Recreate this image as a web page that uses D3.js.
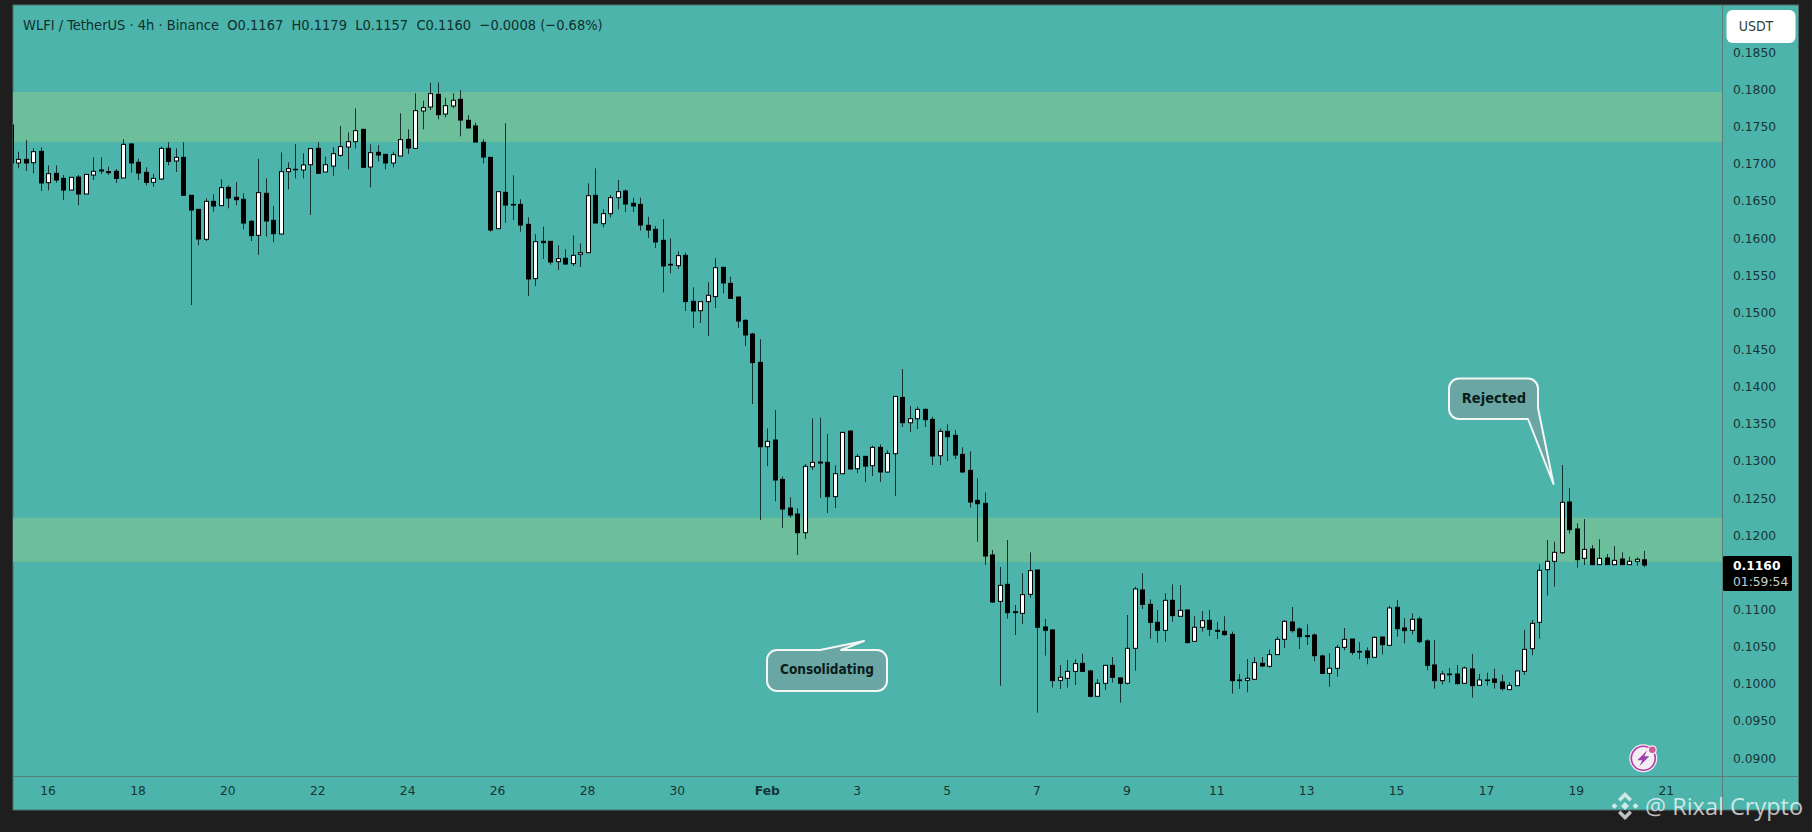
<!DOCTYPE html>
<html>
<head>
<meta charset="utf-8">
<title>WLFI / TetherUS</title>
<script src="https://cdnjs.cloudflare.com/ajax/libs/d3/7.8.5/d3.min.js"></script>
<style>
	html, body { margin: 0; padding: 0; background: #1e1e1e; overflow: hidden; }
	svg { display: block; }
	text { font-family: "DejaVu Sans", sans-serif; }
</style>
</head>
<body>
<svg id="chart" width="1812" height="832"></svg>
<script>
//DATA, one entry per 4h candle
var opens = [
	0.17522, 0.17011, 0.17060, 0.17015, 0.17168, 0.16746, 0.16872, 0.16804, 0.16647, 0.16822,
	0.16594, 0.16849, 0.16917, 0.16894, 0.16899, 0.16809, 0.17267, 0.17020, 0.16885, 0.16751,
	0.16795, 0.17208, 0.17038, 0.17087, 0.16576, 0.16387, 0.15984, 0.16495, 0.16437, 0.16683,
	0.16549, 0.16522, 0.16226, 0.16037, 0.16603, 0.16239, 0.16055, 0.16894, 0.16926, 0.16917,
	0.16988, 0.17208, 0.16890, 0.16970, 0.17114, 0.17226, 0.17298, 0.17464, 0.16957, 0.17154,
	0.17127, 0.17011, 0.17105, 0.17329, 0.17208, 0.17711, 0.17764, 0.17935, 0.17670, 0.17778,
	0.17868, 0.17585, 0.17509, 0.17289, 0.17087, 0.16127, 0.16616, 0.16454, 0.16454, 0.16185,
	0.15454, 0.15957, 0.15957, 0.15683, 0.15728, 0.15656, 0.15782, 0.15804, 0.16576, 0.16194,
	0.16329, 0.16544, 0.16634, 0.16468, 0.16454, 0.16172, 0.16118, 0.15970, 0.15647, 0.15629,
	0.15768, 0.15149, 0.15023, 0.15145, 0.15212, 0.15607, 0.15391, 0.15207, 0.14893, 0.14709,
	0.14328, 0.13192, 0.13282, 0.12753, 0.12367, 0.12286, 0.12035, 0.12923, 0.12986, 0.12982,
	0.12520, 0.12829, 0.13403, 0.12896, 0.13062, 0.12937, 0.13184, 0.12852, 0.13098, 0.13856,
	0.13515, 0.13569, 0.13695, 0.13560, 0.13071, 0.13399, 0.13345, 0.13089, 0.12874, 0.12470,
	0.12430, 0.11735, 0.11111, 0.11340, 0.10972, 0.10950, 0.11206, 0.11533, 0.10766, 0.10726,
	0.10048, 0.10075, 0.10169, 0.10277, 0.10174, 0.09833, 0.10008, 0.10250, 0.10080, 0.10008,
	0.10479, 0.11264, 0.11071, 0.10829, 0.10721, 0.11125, 0.10910, 0.10995, 0.10573, 0.10762,
	0.10856, 0.10721, 0.10708, 0.10667, 0.10053, 0.10048, 0.10062, 0.10277, 0.10237, 0.10394,
	0.10600, 0.10833, 0.10739, 0.10649, 0.10658, 0.10376, 0.10142, 0.10210, 0.10492, 0.10604,
	0.10438, 0.10443, 0.10358, 0.10631, 0.10519, 0.11031, 0.10752, 0.10721, 0.10874, 0.10578,
	0.10255, 0.10044, 0.10133, 0.10133, 0.10008, 0.10201, 0.09981, 0.10053, 0.10066, 0.10026,
	0.09923, 0.09976, 0.10169, 0.10474, 0.10829, 0.11538, 0.11650, 0.11766, 0.12448, 0.12085,
	0.11690, 0.11816, 0.11605, 0.11695, 0.11605, 0.11681, 0.11605, 0.11650, 0.11670
];
var highs = [
	0.17522,
	0.17163, 0.17320, 0.17208, 0.17222, 0.16979, 0.16979, 0.16849, 0.16818, 0.16849, 0.16858,
	0.17087, 0.17087, 0.16961, 0.16930, 0.17329, 0.17275, 0.17069, 0.16953, 0.16863, 0.17231,
	0.17289, 0.17208, 0.17289, 0.16576, 0.16387, 0.16535, 0.16589, 0.16791, 0.16706, 0.16755,
	0.16603, 0.16244, 0.17065, 0.16804, 0.16432, 0.17154, 0.17020, 0.17267, 0.17141, 0.17208,
	0.17289, 0.17096, 0.17222, 0.17509, 0.17424, 0.17747, 0.17464, 0.17262, 0.17253, 0.17127,
	0.17163, 0.17679, 0.17464, 0.17948, 0.17850, 0.18092, 0.18096, 0.17890, 0.17949, 0.17993,
	0.17652, 0.17554, 0.17329, 0.17087, 0.16625, 0.17545, 0.16845, 0.16522, 0.16280, 0.16051,
	0.16154, 0.15957, 0.15903, 0.15849, 0.16037, 0.15930, 0.16737, 0.16939, 0.16387, 0.16580,
	0.16782, 0.16656, 0.16544, 0.16544, 0.16288, 0.16163, 0.16253, 0.15997, 0.15822, 0.15804,
	0.15337, 0.15145, 0.15405, 0.15728, 0.15607, 0.15481, 0.15212, 0.14907, 0.14727, 0.14638,
	0.13439, 0.13686, 0.12789, 0.12511, 0.12363, 0.12959, 0.13574, 0.13583, 0.13363, 0.12941,
	0.13394, 0.13412, 0.13094, 0.13071, 0.13206, 0.13224, 0.13143, 0.13874, 0.14238, 0.13740,
	0.13731, 0.13708, 0.13596, 0.13439, 0.13493, 0.13417, 0.13184, 0.13130, 0.12766, 0.12578,
	0.11802, 0.11573, 0.11937, 0.11062, 0.11488, 0.11771, 0.11533, 0.10874, 0.10739, 0.10255,
	0.10322, 0.10331, 0.10407, 0.10187, 0.10066, 0.10255, 0.10362, 0.10089, 0.10927, 0.11309,
	0.11488, 0.11138, 0.10995, 0.11219, 0.11340, 0.11331, 0.10995, 0.10910, 0.10981, 0.10995,
	0.10833, 0.10910, 0.10703, 0.10133, 0.10335, 0.10362, 0.10362, 0.10465, 0.10636, 0.10860,
	0.11035, 0.10762, 0.10802, 0.10681, 0.10394, 0.10412, 0.10524, 0.10753, 0.10604, 0.10560,
	0.10492, 0.10636, 0.10636, 0.11049, 0.11129, 0.10883, 0.10950, 0.10905, 0.10600, 0.10591,
	0.10174, 0.10214, 0.10255, 0.10232, 0.10403, 0.10133, 0.10151, 0.10205, 0.10124, 0.10021,
	0.10174, 0.10726, 0.10860, 0.11609, 0.11937, 0.11914, 0.12946, 0.12637, 0.12161, 0.12219,
	0.11869, 0.11946, 0.11748, 0.11856, 0.11771, 0.11712, 0.11704, 0.11790
];
var lows = [
	0.16990,
	0.16939, 0.16903, 0.16872, 0.16634, 0.16643, 0.16746, 0.16513, 0.16647, 0.16441, 0.16594,
	0.16782, 0.16863, 0.16849, 0.16742, 0.16809, 0.16881, 0.16782, 0.16710, 0.16692, 0.16782,
	0.16979, 0.16890, 0.16567, 0.15100, 0.15903, 0.15961, 0.16356, 0.16437, 0.16401, 0.16441,
	0.16118, 0.15961, 0.15773, 0.16019, 0.15943, 0.16055, 0.16656, 0.16804, 0.16804, 0.16311,
	0.16863, 0.16890, 0.16836, 0.17096, 0.16926, 0.17208, 0.16948, 0.16683, 0.17033, 0.16926,
	0.16953, 0.17105, 0.17132, 0.17204, 0.17464, 0.17724, 0.17598, 0.17625, 0.17747, 0.17370,
	0.17482, 0.17293, 0.17006, 0.16087, 0.16127, 0.16208, 0.16244, 0.16087, 0.15221, 0.15355,
	0.15719, 0.15642, 0.15571, 0.15642, 0.15625, 0.15611, 0.15804, 0.16203, 0.16145, 0.16280,
	0.16387, 0.16351, 0.16351, 0.16100, 0.16001, 0.15867, 0.15270, 0.15526, 0.15584, 0.15019,
	0.14790, 0.14857, 0.14682, 0.15059, 0.15257, 0.15180, 0.14790, 0.14548, 0.13767, 0.12206,
	0.12932, 0.12457, 0.12098, 0.12237, 0.11735, 0.11950, 0.12878, 0.12502, 0.12300, 0.12367,
	0.12829, 0.12892, 0.12838, 0.12717, 0.12798, 0.12717, 0.12843, 0.12529, 0.13457, 0.13390,
	0.13430, 0.13457, 0.12946, 0.12946, 0.13000, 0.13026, 0.12843, 0.12372, 0.11914, 0.11600,
	0.11093, 0.09976, 0.10878, 0.10658, 0.10806, 0.11161, 0.09613, 0.10380, 0.09950, 0.09932,
	0.09950, 0.09986, 0.10160, 0.09819, 0.09833, 0.09918, 0.10017, 0.09748, 0.09994, 0.10178,
	0.11008, 0.10609, 0.10555, 0.10569, 0.10838, 0.10910, 0.10546, 0.10569, 0.10703, 0.10645,
	0.10604, 0.10649, 0.09869, 0.09932, 0.09887, 0.10062, 0.10228, 0.10219, 0.10389, 0.10483,
	0.10690, 0.10470, 0.10524, 0.10304, 0.10133, 0.09963, 0.10098, 0.10452, 0.10390, 0.10331,
	0.10264, 0.10358, 0.10398, 0.10519, 0.10636, 0.10546, 0.10667, 0.10546, 0.10183, 0.09936,
	0.09990, 0.10017, 0.09994, 0.10003, 0.09815, 0.09976, 0.09976, 0.09936, 0.09909, 0.09918,
	0.09972, 0.10120, 0.10385, 0.10609, 0.11188, 0.11309, 0.11748, 0.12022, 0.11564, 0.11600,
	0.11605, 0.11605, 0.11605, 0.11605, 0.11605, 0.11600, 0.11591, 0.11570
];
var closes = [
	0.17011,
	0.17060, 0.17011, 0.17163, 0.16742, 0.16867, 0.16782, 0.16647, 0.16818, 0.16594, 0.16858,
	0.16899, 0.16903, 0.16881, 0.16804, 0.17262, 0.17011, 0.16876, 0.16751, 0.16804, 0.17208,
	0.17033, 0.17087, 0.16576, 0.16378, 0.15988, 0.16495, 0.16432, 0.16679, 0.16540, 0.16517,
	0.16203, 0.16033, 0.16612, 0.16230, 0.16060, 0.16894, 0.16935, 0.16921, 0.16984, 0.17204,
	0.16872, 0.16988, 0.17136, 0.17231, 0.17298, 0.17446, 0.16953, 0.17150, 0.17118, 0.17011,
	0.17123, 0.17325, 0.17213, 0.17715, 0.17755, 0.17944, 0.17661, 0.17782, 0.17855, 0.17589,
	0.17482, 0.17293, 0.17091, 0.16109, 0.16625, 0.16445, 0.16445, 0.16176, 0.15450, 0.15952,
	0.15939, 0.15678, 0.15723, 0.15651, 0.15768, 0.15804, 0.16571, 0.16203, 0.16329, 0.16544,
	0.16625, 0.16459, 0.16432, 0.16176, 0.16109, 0.15948, 0.15625, 0.15638, 0.15764, 0.15145,
	0.15019, 0.15145, 0.15230, 0.15602, 0.15396, 0.15189, 0.14884, 0.14696, 0.14324, 0.13192,
	0.13264, 0.12744, 0.12354, 0.12273, 0.12035, 0.12928, 0.12982, 0.12973, 0.12520, 0.12829,
	0.13385, 0.12892, 0.13062, 0.12932, 0.13184, 0.12852, 0.13103, 0.13870, 0.13515, 0.13569,
	0.13695, 0.13556, 0.13067, 0.13399, 0.13327, 0.13080, 0.12852, 0.12448, 0.12425, 0.11721,
	0.11102, 0.11327, 0.10959, 0.10959, 0.11201, 0.11524, 0.10762, 0.10721, 0.10044, 0.10089,
	0.10169, 0.10273, 0.10169, 0.09833, 0.10008, 0.10250, 0.10089, 0.10008, 0.10479, 0.11277,
	0.11071, 0.10829, 0.10721, 0.11125, 0.10919, 0.10990, 0.10555, 0.10762, 0.10851, 0.10735,
	0.10708, 0.10663, 0.10044, 0.10044, 0.10075, 0.10286, 0.10241, 0.10394, 0.10600, 0.10842,
	0.10717, 0.10636, 0.10636, 0.10380, 0.10142, 0.10210, 0.10492, 0.10600, 0.10425, 0.10429,
	0.10353, 0.10627, 0.10528, 0.11022, 0.10743, 0.10717, 0.10869, 0.10569, 0.10250, 0.10044,
	0.10133, 0.10124, 0.10003, 0.10214, 0.09976, 0.10053, 0.10044, 0.10021, 0.09936, 0.09981,
	0.10174, 0.10465, 0.10815, 0.11529, 0.11650, 0.11771, 0.12444, 0.12076, 0.11672, 0.11811,
	0.11605, 0.11690, 0.11605, 0.11663, 0.11605, 0.11650, 0.11677, 0.11600
];
var zoneTops = [0.17966, 0.12237];
var zoneBottoms = [0.17293, 0.11641];
var priceTicks = [0.09, 0.095, 0.1, 0.105, 0.11, 0.12, 0.125, 0.13, 0.135, 0.14, 0.145, 0.15, 0.155, 0.16, 0.165, 0.17, 0.175, 0.18, 0.185];
var timeTickDates = [
	"2026-01-16", "2026-01-18", "2026-01-20", "2026-01-22", "2026-01-24", "2026-01-26", "2026-01-28", "2026-01-30",
	"2026-02-01", "2026-02-03", "2026-02-05", "2026-02-07", "2026-02-09", "2026-02-11", "2026-02-13", "2026-02-15",
	"2026-02-17", "2026-02-19", "2026-02-21"
];
var timeTickLabels = ["16", "18", "20", "22", "24", "26", "28", "30", "Feb", "3", "5", "7", "9", "11", "13", "15", "17", "19", "21"];
var headerText = "WLFI / TetherUS \u00b7 4h \u00b7 Binance  O0.1167  H0.1179  L0.1157  C0.1160  \u22120.0008 (\u22120.68%)";
var lastPrice = 0.1160;
var countdown = "01:59:54";

(function () {
	var svg, plot, x, y, firstCandle, candleMs;
	var left = 13, top = 5, axisX = 1722.5, axisY = 776, right = 1798.5, bottom = 810;
	var teal = "#4cb4ab", zone = "#6dbf9b", axisLine = "#5a7f7b", tickText = "#173534";

	svg = d3.select("#chart");
	firstCandle = Date.UTC(2026, 0, 15, 4);
	candleMs = 4 * 3600 * 1000;
	x = d3.scaleUtc()
		.domain([new Date(firstCandle), new Date(firstCandle + 218 * candleMs)])
		.range([10.81, 1644]);
	y = d3.scaleLinear().domain([0.09, 0.185]).range([758.2, 52.35]);

	drawFrame();
	drawZones();
	drawCandles();
	drawAxes();
	drawHeader();
	drawPriceLabel();
	drawCallouts();
	drawBadge();
	drawWatermark();

	function drawFrame() {
		svg.append("rect").attr("x", left).attr("y", top)
			.attr("width", right - left).attr("height", bottom - top)
			.style("fill", teal).style("stroke", "#4d6e6b");
		svg.append("defs").append("clipPath").attr("id", "plot-clip")
			.append("rect").attr("x", left).attr("y", top)
			.attr("width", axisX - left).attr("height", axisY - top);
		plot = svg.append("g").attr("clip-path", "url(#plot-clip)");
	}
	function drawZones() {
		plot.selectAll(".zone")
			.data(zoneTops).enter().append("rect")
			.attr("class", "zone")
			.attr("x", left)
			.attr("width", axisX - left)
			.attr("y", function (d) { return y(d) })
			.attr("height", function (d, i) { return y(zoneBottoms[i]) - y(d) })
			.style("fill", zone);
	}
	function candleX(i) {
		return Math.round(x(new Date(firstCandle + i * candleMs))) + 0.5;
	}
	function drawCandles() {
		var candles = plot.selectAll(".candle")
			.data(opens).enter().append("g")
			.attr("class", "candle");

		candles.append("line")
			.attr("x1", function (d, i) { return candleX(i) })
			.attr("x2", function (d, i) { return candleX(i) })
			.attr("y1", function (d, i) { return y(highs[i]) })
			.attr("y2", function (d, i) { return y(lows[i]) })
			.style("stroke", "#123230")
			.style("stroke-width", 1);

		candles.append("rect")
			.attr("x", function (d, i) { return candleX(i) - 2 })
			.attr("width", 4)
			.attr("y", function (d, i) { return y(Math.max(d, closes[i])) })
			.attr("height", function (d, i) { return Math.max(Math.abs(y(d) - y(closes[i])), 0.5) })
			.style("fill", function (d, i) { return closes[i] >= d ? "#ffffff" : "#000000" })
			.style("stroke", "#000000")
			.style("stroke-width", 1);
	}
	function drawAxes() {
		var yAxis, xAxis, yGroup, xGroup;

		svg.append("line").attr("x1", axisX).attr("x2", axisX).attr("y1", top).attr("y2", bottom)
			.style("stroke", axisLine);
		svg.append("line").attr("x1", left).attr("x2", right).attr("y1", axisY + 0.5).attr("y2", axisY + 0.5)
			.style("stroke", axisLine);

		yAxis = d3.axisRight(y).tickValues(priceTicks).tickSize(0).tickPadding(0)
			.tickFormat(d3.format(".4f"));
		yGroup = svg.append("g").attr("transform", "translate(1733,0)").call(yAxis);
		yGroup.select(".domain").remove();
		yGroup.selectAll("text").style("font-size", "12.3px").style("fill", tickText).style("font-family", "DejaVu Sans");

		xAxis = d3.axisBottom(x)
			.tickValues(timeTickDates.map(function (d) { return new Date(d + "T00:00:00Z") }))
			.tickSize(0).tickPadding(0)
			.tickFormat(function (d, i) { return timeTickLabels[i] });
		xGroup = svg.append("g").attr("transform", "translate(-0.7," + 786 + ")").call(xAxis);
		xGroup.select(".domain").remove();
		xGroup.selectAll("text")
			.style("font-size", "12.3px").style("fill", tickText).style("font-family", "DejaVu Sans")
			.style("font-weight", function (d, i) { return timeTickLabels[i] === "Feb" ? "bold" : "normal" });
	}
	function drawHeader() {
		svg.append("text").attr("x", 23).attr("y", 30)
			.attr("xml:space", "preserve")
			.style("white-space", "pre")
			.style("font-family", "'DejaVu Sans Condensed', 'DejaVu Sans'")
			.style("font-size", "14.5px")
			.style("fill", "#10302f")
			.text(headerText);

		svg.append("rect").attr("x", 1726.5).attr("y", 10).attr("width", 69).attr("height", 33).attr("rx", 6)
			.style("fill", "#ffffff");
		svg.append("text").attr("x", 1756).attr("y", 31).attr("text-anchor", "middle")
			.style("font-family", "'DejaVu Sans Condensed', 'DejaVu Sans'")
			.style("font-size", "14px").style("fill", "#2e4140")
			.text("USDT");
	}
	function drawPriceLabel() {
		var cy = y(lastPrice);
		svg.append("rect").attr("x", 1723).attr("y", cy - 9).attr("width", 69).attr("height", 35).attr("rx", 1.5)
			.style("fill", "#000000");
		svg.append("text").attr("x", 1733).attr("y", cy + 5)
			.style("font-size", "12.3px").style("font-weight", "bold").style("fill", "#ffffff")
			.text(d3.format(".4f")(lastPrice));
		svg.append("text").attr("x", 1733).attr("y", cy + 21)
			.style("font-size", "12.3px").style("fill", "#c8d0cf")
			.text(countdown);
	}
	function calloutStyle(sel) {
		return sel.style("fill", "#6aa6a3").style("stroke", "#f2f7f6").style("stroke-width", 2).style("stroke-linejoin", "round");
	}
	function calloutText(cx, cy, label, size) {
		svg.append("text").attr("x", cx).attr("y", cy).attr("text-anchor", "middle")
			.style("font-family", "'DejaVu Sans Condensed', 'DejaVu Sans'")
			.style("font-size", size + "px").style("font-weight", "bold").style("fill", "#0a1c1c")
			.text(label);
	}
	function drawCallouts() {
		var path;

		// consolidating, tail runs off the top edge
		path = d3.path();
		path.moveTo(777, 650);
		path.lineTo(820, 650);
		path.lineTo(864, 641);
		path.lineTo(841, 650);
		path.lineTo(877, 650);
		path.arcTo(887, 650, 887, 660, 10);
		path.lineTo(887, 681);
		path.arcTo(887, 691, 877, 691, 10);
		path.lineTo(777, 691);
		path.arcTo(767, 691, 767, 681, 10);
		path.lineTo(767, 660);
		path.arcTo(767, 650, 777, 650, 10);
		path.closePath();
		calloutStyle(svg.append("path").attr("d", path.toString()));
		calloutText(827, 674, "Consolidating", 13.5);

		// rejected, tail points at the wick
		path = d3.path();
		path.moveTo(1459, 378.5);
		path.lineTo(1528, 378.5);
		path.arcTo(1538, 378.5, 1538, 388.5, 10);
		path.lineTo(1538, 408);
		path.lineTo(1553.5, 484);
		path.lineTo(1528, 419);
		path.lineTo(1459, 419);
		path.arcTo(1449, 419, 1449, 409, 10);
		path.lineTo(1449, 388.5);
		path.arcTo(1449, 378.5, 1459, 378.5, 10);
		path.closePath();
		calloutStyle(svg.append("path").attr("d", path.toString()));
		calloutText(1494, 403, "Rejected", 14.5);
	}
	function drawBadge() {
		var g = svg.append("g").attr("transform", "translate(1643.3,758.3)");
		g.append("circle").attr("r", 14).style("fill", "#f4eef4");
		g.append("circle").attr("r", 12).style("fill", "none").style("stroke", "#b23aa6").style("stroke-width", 1.6);
		g.append("path").attr("d", "M4,-8 L-6,2 L-1,2 L-4,8 L6,-2 L1,-2 Z").style("fill", "#9c3fa8");
		g.append("circle").attr("cx", 9).attr("cy", -8.5).attr("r", 4.5).style("fill", "#f4eef4");
		g.append("circle").attr("cx", 9).attr("cy", -8.5).attr("r", 3.3).style("fill", "#cf5a9a");
	}
	function drawWatermark() {
		var g = svg.append("g").attr("transform", "translate(1625,806)").style("fill", "rgba(255,255,255,0.72)");
		g.append("path").attr("d", "M0,-4 L4,0 L0,4 L-4,0 Z");
		g.append("path").attr("d", "M0,-14 L7,-7 L4.5,-4.5 L0,-9 L-4.5,-4.5 L-7,-7 Z");
		g.append("path").attr("d", "M0,14 L7,7 L4.5,4.5 L0,9 L-4.5,4.5 L-7,7 Z");
		g.append("path").attr("d", "M-13.5,0 L-10.5,-3 L-7.5,0 L-10.5,3 Z");
		g.append("path").attr("d", "M13.5,0 L10.5,-3 L7.5,0 L10.5,3 Z");
		svg.append("text").attr("x", 1645).attr("y", 815)
			.style("font-family", "'Open Sans'")
			.style("font-size", "23.5px")
			.style("fill", "rgba(255,255,255,0.72)")
			.text("@ Rixal Crypto");
	}
})();
</script>
</body>
</html>
